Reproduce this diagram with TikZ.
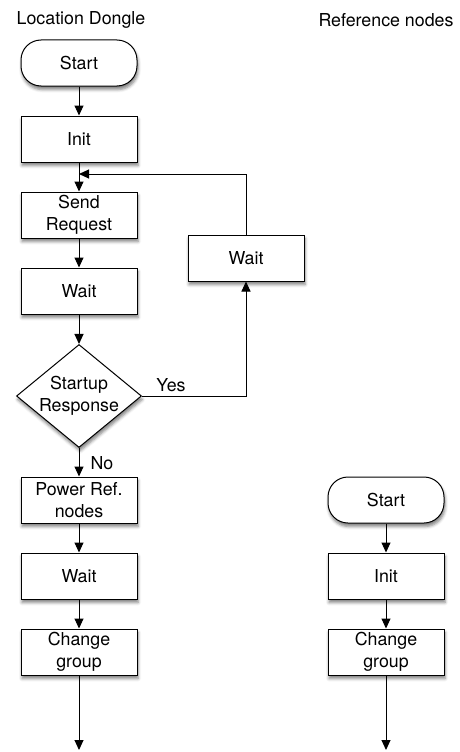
\documentclass[tikz,border=0pt]{standalone}
\usepackage{fontspec}
\setmainfont{TeX Gyre Heros}
\usetikzlibrary{shapes.geometric,arrows.meta,shadows.blur}

\tikzset{
  base/.style={draw=black, line width=1pt, fill=white, align=center,
    font=\fontsize{17.8}{22}\selectfont, inner sep=0pt,
    blur shadow={shadow xshift=1pt, shadow yshift=-3.5pt, shadow blur radius=3pt, shadow opacity=50}},
  procbox/.style={base, rectangle, minimum width=116pt, minimum height=46pt},
  termbox/.style={base, rectangle, rounded corners=20pt, minimum width=116pt, minimum height=46pt},
  decbox/.style={base, diamond, minimum width=125pt, minimum height=103pt, inner sep=-5pt},
  flow/.style={line width=1pt, -{Triangle[length=10pt,width=9pt]}},
  title/.style={font=\fontsize{17.8}{22}\selectfont},
  lbl/.style={font=\fontsize{17.8}{22}\selectfont}
}

\begin{document}
\begin{tikzpicture}[x=1pt,y=-1pt]
\useasboundingbox (0,0) rectangle (459,752);

% column headings
\node[title] (hdl) at (81,20) {Location Dongle};
\node[title] (hdr) at (386,20) {Reference nodes};

% location dongle flow
\node[termbox] (start) at (79,63) {Start};
\node[procbox] (init) at (79,139) {Init};
\node[procbox] (send) at (79,215) {Send\\Request};
\node[procbox] (waitA) at (79,291) {Wait};
\node[decbox] (resp) at (79,396) {Startup\\Response};
\node[procbox] (waitB) at (246,258) {Wait};
\node[procbox] (power) at (79,500) {Power Ref.\\nodes};
\node[procbox] (waitC) at (79,576) {Wait};
\node[procbox] (chg) at (79,652) {Change\\group};
\coordinate (endL) at (79,750);
\coordinate (loop) at (79,174);

% reference node flow
\node[termbox] (rstart) at (386,500) {Start};
\node[procbox] (rinit) at (386,576) {Init};
\node[procbox] (rchg) at (386,652) {Change\\group};
\coordinate (endR) at (386,750);

% connectors
\draw[flow] (start) -- (init);
\draw[flow] (init) -- (send);
\draw[flow] (send) -- (waitA);
\draw[flow] (waitA) -- (resp);
\draw[flow] (resp.east) -| (waitB.south);
\draw[flow] (waitB.north) |- (loop);
\draw[flow] (resp) -- (power);
\draw[flow] (power) -- (waitC);
\draw[flow] (waitC) -- (chg);
\draw[flow] (chg) -- (endL);
\draw[flow] (rstart) -- (rinit);
\draw[flow] (rinit) -- (rchg);
\draw[flow] (rchg) -- (endR);

% branch labels
\node[lbl] (yes) at (171,385) {Yes};
\node[lbl] (no) at (102,463) {No};
\end{tikzpicture}
\end{document}
